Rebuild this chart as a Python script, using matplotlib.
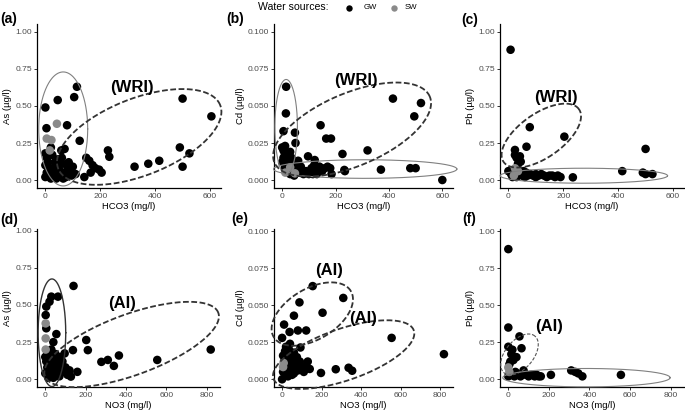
import numpy as np
import matplotlib
matplotlib.use("Agg")
import matplotlib.pyplot as plt
from matplotlib.lines import Line2D

plt.rcParams['font.family'] = ['Liberation Sans', 'DejaVu Sans']

# ---------------- data ----------------
# (a) As vs HCO3
a_gw_x = [0, 45, 105, 115, 4, 79, 125, 58, 70, 228, 233, 149, 160, 172, 182, 196, 205, 142, 165,
          0, 5, 10, 0, 15, 5, 0, 20, 30, 40, 45, 50, 55, 60, 70, 75, 80, 90, 95, 100, 110, 20, 25, 35,
          10, 60, 65, 40, 85, 15, 30,
          325, 375, 415, 490, 500, 500, 525, 605]
a_gw_y = [0.49, 0.54, 0.56, 0.63, 0.35, 0.37, 0.265, 0.20, 0.21, 0.20, 0.157, 0.15, 0.13, 0.10, 0.08, 0.07, 0.05, 0.02, 0.05,
          0.18, 0.15, 0.12, 0.10, 0.08, 0.05, 0.02, 0.01, 0.04, 0.10, 0.14, 0.07, 0.03, 0.11, 0.05, 0.02, 0.09, 0.06, 0.03, 0.09, 0.04, 0.22, 0.17, 0.12,
          0.06, 0.15, 0.01, 0.01, 0.12, 0.03, 0.08,
          0.09, 0.11, 0.13, 0.22, 0.55, 0.09, 0.18, 0.43]
a_sw_x = [42, 5, 22, 16]
a_sw_y = [0.38, 0.28, 0.27, 0.20]

# (b) Cd vs HCO3
b_gw_x = [15, 14, 5, 48, 50, 144, 165, 183, 226, 320, 415, 495, 520, 370, 480, 500, 600, 235, 185, 97, 122,
          11, 0, 5, 10, 5, 15, 0, 20, 10, 25, 30, 40, 50, 55, 60, 65, 70, 80, 90, 100, 110, 120, 125, 140, 150,
          160, 170, 180, 30, 20, 35, 45, 130, 115, 233]
b_gw_y = [0.063, 0.045, 0.033, 0.032, 0.025, 0.037, 0.028, 0.028, 0.0176, 0.020, 0.055, 0.043, 0.052, 0.007, 0.008, 0.008, 0.000, 0.006, 0.004, 0.016, 0.0135,
          0.023, 0.022, 0.020, 0.018, 0.015, 0.013, 0.012, 0.010, 0.008, 0.006, 0.004, 0.012, 0.010, 0.007, 0.013, 0.005, 0.009, 0.004, 0.006, 0.004, 0.008, 0.010, 0.005, 0.009, 0.006,
          0.008, 0.009, 0.008, 0.019, 0.016, 0.015, 0.003, 0.004, 0.004, 0.0068]
b_sw_x = [30, 48, 12]
b_sw_y = [0.0085, 0.0045, 0.005]

# (c) Pb vs HCO3
c_gw_x = [8, 78, 204, 66, 24, 24, 42, 30, 45, 35, 500, 415, 490, 500, 525, 235,
          0, 10, 15, 20, 30, 40, 50, 60, 70, 80, 90, 100, 110, 120, 130, 140, 150, 160, 170, 180, 190, 65, 100, 55]
c_gw_y = [0.88, 0.357, 0.293, 0.225, 0.203, 0.169, 0.16, 0.15, 0.124, 0.11, 0.21, 0.06, 0.05, 0.04, 0.04, 0.018,
          0.06, 0.04, 0.02, 0.03, 0.02, 0.04, 0.03, 0.02, 0.03, 0.04, 0.03, 0.02, 0.03, 0.04, 0.03, 0.02, 0.03, 0.03, 0.02, 0.03, 0.02, 0.05, 0.04, 0.06]
c_sw_x = [24, 35, 20]
c_sw_y = [0.079, 0.06, 0.03]

# (d) As vs NO3
d_gw_x = [140, 30, 63, 21, 5, 2, 5, 55, 40, 203, 211, 137, 96, 278, 310, 340, 365, 555, 820, 159, 127,
          0, 5, 10, 15, 20, 25, 30, 35, 40, 45, 50, 55, 60, 70, 80, 90, 100, 110, 120, 10, 20, 30, 40, 60, 75, 0, 15, 50, 85]
d_gw_y = [0.628, 0.556, 0.556, 0.522, 0.489, 0.432, 0.343, 0.304, 0.25, 0.264, 0.196, 0.196, 0.174, 0.117, 0.13, 0.09, 0.16, 0.13, 0.20, 0.05, 0.018,
          0.15, 0.12, 0.08, 0.05, 0.02, 0.10, 0.06, 0.03, 0.14, 0.09, 0.04, 0.11, 0.07, 0.02, 0.10, 0.05, 0.08, 0.03, 0.06, 0.18, 0.16, 0.20, 0.01, 0.13, 0.15, 0.04, 0.01, 0.17, 0.12]
d_sw_x = [2, 2, 2]
d_sw_y = [0.376, 0.275, 0.20]

# (e) Cd vs NO3
e_gw_x = [155, 310, 88, 205, 60, 10, 38, 80, 122, 0, 555, 93, 820, 272, 337, 355, 197, 0,
          5, 10, 15, 20, 25, 30, 35, 40, 45, 50, 55, 60, 70, 80, 90, 100, 110, 120, 130, 140, 20, 40, 60, 75, 5, 30, 50, 15]
e_gw_y = [0.063, 0.055, 0.052, 0.045, 0.043, 0.037, 0.032, 0.033, 0.033, 0.028, 0.028, 0.0215, 0.017, 0.0068, 0.0078, 0.0058, 0.0043, 0.000,
          0.016, 0.012, 0.019, 0.009, 0.014, 0.005, 0.020, 0.011, 0.007, 0.017, 0.013, 0.004, 0.010, 0.006, 0.012, 0.008, 0.005, 0.009, 0.012, 0.007, 0.022, 0.024, 0.018, 0.015, 0.005, 0.002, 0.003, 0.008]
e_sw_x = [5, 8]
e_sw_y = [0.0083, 0.011]

# (f) Pb vs NO3
f_gw_x = [0, 0, 55, 0, 20, 65, 40, 15, 10, 5, 25, 210, 310, 330, 345, 365, 555,
          0, 10, 20, 30, 40, 50, 60, 70, 80, 90, 100, 110, 120, 130, 140, 150, 160, 75, 35]
f_gw_y = [0.88, 0.35, 0.29, 0.22, 0.20, 0.21, 0.15, 0.17, 0.12, 0.10, 0.13, 0.03, 0.06, 0.05, 0.04, 0.02, 0.03,
          0.02, 0.04, 0.03, 0.02, 0.04, 0.03, 0.02, 0.03, 0.04, 0.03, 0.02, 0.03, 0.03, 0.02, 0.03, 0.02, 0.02, 0.06, 0.05]
f_sw_x = [0, 5]
f_sw_y = [0.08, 0.05]

panel_letters = ["(a)", "(b)", "(c)", "(d)", "(e)", "(f)"]
y_titles = ["As (µg/l)", "Cd (µg/l)", "Pb (µg/l)", "As (µg/l)", "Cd (µg/l)", "Pb (µg/l)"]
x_titles = ["HCO3 (mg/l)"] * 3 + ["NO3 (mg/l)"] * 3
x_ticks_top = [0, 200, 400, 600]
x_ticks_bottom = [0, 200, 400, 600, 800]
y_ticks_pb = [0.00, 0.25, 0.50, 0.75, 1.00]
y_ticks_cd = [0.000, 0.025, 0.050, 0.075, 0.100]
legend_labels = ["GW", "SW"]

# ---------------- figure ----------------
W, H = 685, 413
fig = plt.figure(figsize=(W / 100, H / 100), dpi=100)

def box(l, r, t, b):
    return [l / W, 1 - b / H, (r - l) / W, (b - t) / H]

boxes = [box(37, 221, 24, 188), box(274, 453, 24, 188), box(500, 684, 24, 188),
         box(37, 220, 229, 387), box(274, 453, 229, 387), box(500, 684, 229, 387)]

gw_data = [(a_gw_x, a_gw_y), (b_gw_x, b_gw_y), (c_gw_x, c_gw_y), (d_gw_x, d_gw_y), (e_gw_x, e_gw_y), (f_gw_x, f_gw_y)]
sw_data = [(a_sw_x, a_sw_y), (b_sw_x, b_sw_y), (c_sw_x, c_sw_y), (d_sw_x, d_sw_y), (e_sw_x, e_sw_y), (f_sw_x, f_sw_y)]
ylims = [(-0.054, 1.054), (-0.0054, 0.1054), (-0.054, 1.054), (-0.052, 1.011), (-0.0052, 0.1016), (-0.052, 1.016)]
xlims = [(-30.5, 640)] * 3 + [(-41, 866)] * 3

GW_COL = "black"
SW_COL = "#8a8a8a"
MS = 38

axes = []
for i in range(6):
    ax = fig.add_axes(boxes[i])
    axes.append(ax)
    gx, gy = gw_data[i]
    sx, sy = sw_data[i]
    ax.scatter(gx, gy, s=MS, color=GW_COL, edgecolors='none', zorder=2)
    ax.scatter(sx, sy, s=MS, color=SW_COL, edgecolors='none', zorder=3)
    ax.set_xlim(*xlims[i])
    ax.set_ylim(*ylims[i])
    ax.set_xticks(x_ticks_top if i < 3 else x_ticks_bottom)
    if i in (1, 4):
        ax.set_yticks(y_ticks_cd)
        ax.set_yticklabels([f"{v:.3f}" for v in y_ticks_cd])
    else:
        ax.set_yticks(y_ticks_pb)
        ax.set_yticklabels([f"{v:.2f}" for v in y_ticks_pb])
    for s in ("top", "right"):
        ax.spines[s].set_visible(False)
    for s in ("left", "bottom"):
        ax.spines[s].set_linewidth(0.9)
        ax.spines[s].set_color("black")
    ax.tick_params(axis='both', labelsize=6.1, labelcolor="#4d4d4d", length=2.2, width=0.7,
                   pad=1.5, color="#333333")
    ax.set_xlabel(x_titles[i], fontsize=6.8, labelpad=1.2)
    ax.set_ylabel(y_titles[i], fontsize=6.8, labelpad=2)
    ax.patch.set_alpha(0)

# ---------------- ellipses (center in data, semi-axes in px, angle deg) ----------------
DASH = dict(color="#333333", lw=1.3, linestyle=(0, (3.2, 1.4)))
SOLID = dict(color="#808080", lw=0.8, linestyle="-")
SOLID_DARK = dict(color="#333333", lw=1.0, linestyle="-")
DASH_THIN = dict(color="#555555", lw=0.8, linestyle=(0, (3.0, 1.5)))

ellipses = [
    (0, 65, 0.345, 24.5, 57, 0, SOLID),
    (0, 342, 0.291, 87, 38.5, 21.4, DASH),
    (1, 15, 0.0357, 11.3, 47.7, 0, SOLID),
    (1, 311, 0.0074, 91.7, 9.3, 0, SOLID),
    (1, 262, 0.0341, 84.4, 36.4, 23, DASH),
    (2, 275, 0.029, 83.7, 7.5, 0, SOLID),
    (2, 120, 0.30, 46, 22, 35, DASH),
    (3, 33, 0.313, 13.8, 53.8, 0, SOLID_DARK),
    (3, 428, 0.234, 92.3, 30.4, 20.1, DASH),
    (4, 153, 0.0441, 44.9, 25.4, 30.8, DASH),
    (4, 312, 0.0167, 74.2, 25.8, 19, DASH),
    (5, 55, 0.168, 24, 14, 50, DASH_THIN),
    (5, 385, 0.011, 83.7, 9.2, 0, SOLID),
]

t = np.linspace(0, 2 * np.pi, 300)
for (i, cx, cy, a, b, ang, sty) in ellipses:
    ax = axes[i]
    c = ax.transData.transform((cx, cy))
    th = np.deg2rad(ang)
    u, v = a * np.cos(t), b * np.sin(t)
    px = c[0] + u * np.cos(th) - v * np.sin(th)
    py = c[1] + u * np.sin(th) + v * np.cos(th)
    d = ax.transData.inverted().transform(np.column_stack([px, py]))
    ax.plot(d[:, 0], d[:, 1], clip_on=False, zorder=4, **sty)

# group labels
group_labels = [(0, 315, 0.628, "(WRI)"), (1, 277, 0.067, "(WRI)"), (2, 174, 0.56, "(WRI)"),
                (3, 383, 0.507, "(AI)"), (4, 237, 0.0735, "(AI)"), (4, 412, 0.0412, "(AI)"),
                (5, 200, 0.355, "(AI)")]
for (i, x, y, s) in group_labels:
    axes[i].text(x, y, s, fontsize=12, fontweight="bold", ha="center", va="center", zorder=5)

# panel letters
letter_pos = [(0, 19), (226, 19), (461, 20), (0, 220), (231, 219), (462, 219)]
for (px, py), s in zip(letter_pos, panel_letters):
    fig.text(px / W, 1 - py / H, s, fontsize=10, fontweight="bold", ha="left", va="center")

# legend
fig.text(329 / W, 1 - 7.5 / H, "Water sources:", fontsize=7.6, ha="right", va="center")
for (dx, tx), lab, col in zip([(349, 364), (394, 405)], legend_labels, [GW_COL, SW_COL]):
    fig.add_artist(Line2D([dx / W], [1 - 7.5 / H], marker='o', markersize=4.6, color=col,
                          markeredgewidth=0, linestyle='none', transform=fig.transFigure))
    fig.text(tx / W, 1 - 7.5 / H, lab, fontsize=5.6, ha="left", va="center")

fig.savefig("out.png", dpi=100)
